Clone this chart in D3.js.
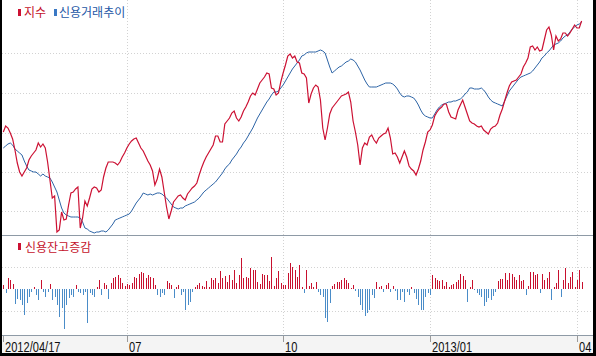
<!DOCTYPE html>
<html><head><meta charset="utf-8">
<script src="https://cdn.jsdelivr.net/npm/d3@7"></script>
<style>body{margin:0;background:#fff}svg{display:block}</style>
</head><body>
<svg id="chart" width="596" height="356"></svg>
<script>
// ---- data ----
const indexValues = [108,114,112,107,101,90,77,68,64,68,
72,80,84,87,90,97,93,96,92,78,
60,42,44,8,10,28,20,21,35,47,
48,51,53,12,22,39,34,42,51,53,
52,48,50,63,72,78,78,78,77,75,
78,83,87,92,96,99,101,102,97,92,
89,84,79,75,69,55,61,71,63,48,
33,21,29,38,41,44,45,42,40,46,
49,52,54,57,65,72,78,83,87,91,
95,104,104,98,98,116,119,122,127,129,
122,119,123,129,133,138,144,147,145,151,
157,160,163,167,166,152,151,145,147,158,
167,175,184,186,182,184,178,177,167,166,
162,137,146,152,155,153,140,112,100,112,
126,132,135,138,141,144,145,146,148,138,
119,108,95,75,92,97,95,103,105,100,
97,102,104,106,107,112,102,86,87,83,
77,83,89,83,74,71,69,65,71,79,
90,98,108,110,115,124,128,131,133,136,
136,128,123,122,121,130,135,140,133,126,
119,117,116,114,113,114,110,108,106,111,
113,114,117,125,131,139,147,154,158,159,
160,163,166,173,177,182,193,194,190,193,
189,190,200,210,213,205,190,204,199,201,
207,207,204,207,211,215,212,212,219];

const creditTrend = [92,94,96,97,95,91,89,87,85,79,
74,70,69,68,68,66,64,66,64,63,
62,58,53,48,40,32,27,25,24,23,
23,23,23,22,18,12,11,9,8,7,
8,8,9,9,8,10,13,16,20,21,
22,23,24,25,26,29,33,37,40,43,
47,46,45,46,45,46,47,47,46,44,
42,39,36,33,32,31,32,32,34,35,
36,37,38,40,42,45,48,50,52,54,
56,58,61,64,67,71,74,76,80,83,
86,90,93,97,100,104,108,112,117,122,
126,130,134,138,141,145,148,148,149,152,
155,159,163,167,171,174,177,180,184,185,
187,188,188,188,188,189,190,189,187,180,
173,167,169,171,173,174,176,178,179,181,
180,178,174,170,165,160,156,153,153,153,
153,154,155,156,157,157,157,156,154,151,
147,144,143,144,144,143,142,139,135,130,
126,124,123,122,122,126,130,133,135,136,
137,138,138,139,139,140,141,143,146,148,
152,152,151,151,151,152,150,147,143,140,
138,137,136,135,134,139,144,149,152,155,
158,161,163,164,165,166,167,169,172,175,
178,182,184,187,189,192,195,196,197,199,
202,204,205,208,211,213,215,216,218];

const creditChange = [4,-4,11,9,5,-15,-10,-11,-16,-26,
-14,-8,-3,2,-6,-11,9,-3,-8,-3,
5,-11,-8,-16,-28,-19,-40,-16,-9,-6,
-8,4,-3,-4,-6,-3,-34,-4,-6,-8,
2,9,-6,6,4,-10,6,11,12,14,
11,6,3,5,4,6,12,11,15,17,
16,11,14,12,11,4,-6,-8,-4,-6,
8,6,4,-9,2,4,-6,-3,-21,-16,
-13,-3,2,4,6,3,2,
8,2,11,9,11,6,18,11,13,7,
14,9,19,6,14,31,11,12,11,21,
19,19,7,5,15,14,14,8,32,3,
11,18,6,4,4,16,26,22,19,12,
24,2,-4,19,3,6,2,7,-3,-6,
-8,-29,-33,-14,3,5,7,7,9,11,
9,6,1,4,-2,-8,-16,-21,-27,-24,
-21,-6,-9,7,2,3,-3,4,6,-3,
3,-2,-11,-11,-3,
-13,-3,-6,2,-4,-10,-16,-21,-21,-8,
-4,-6,14,11,9,8,9,3,7,2,
4,5,7,9,15,13,9,-13,2,9,
-1,-4,-6,-8,-17,-13,-9,-11,-7,-3,
8,10,10,16,9,16,15,12,9,14,
8,9,-6,3,17,17,14,15,-4,15,
9,11,17,-11,2,6,19,-8,9,21,
6,12,17,2,9,19,7];

const tickIdx = [0, 53, 120, 183, 246];
const tickLabels = ["2012/04/17", "07", "10", "2013/01", "04"];
const topGridValues = [29, 68, 107, 147, 187];
const bottomGridValues = [-22, 22];
const topLegend = ["지수", "신용거래추이"];
const bottomLegend = ["신용잔고증감"];

// ---- drawing ----
const svg = d3.select("#chart");
const W = 596, H = 356;
const RED = "#cc1133", BLUE = "#2d64a6", BAR_RED = "#c8102e", BAR_BLUE = "#4a8cc8";
const KFONT = "'Noto Sans CJK KR','Noto Sans',sans-serif";

const x = d3.scaleLinear().domain([0, indexValues.length - 1]).range([3.3, 581.6]);
const yTop = d3.scaleLinear().domain([0, 240]).range([240, 0]);
const yBot = d3.scaleLinear().domain([-46, 46]).range([335, 243]);
const px = v => Math.round(v) + 0.5;

svg.append("rect").attr("width", W).attr("height", H).attr("fill", "#fff");
// axis strip
svg.append("rect").attr("x", 0).attr("y", 335).attr("width", W).attr("height", 18).attr("fill", "#f4f4f4");

// horizontal dotted grid
const grid = svg.append("g").attr("stroke", "#d2d2d2").attr("stroke-dasharray", "1,2").attr("stroke-width", 1).attr("shape-rendering", "crispEdges");
grid.selectAll("line.ht").data(topGridValues).join("line")
  .attr("x1", 2).attr("x2", 592).attr("y1", d => px(yTop(d))).attr("y2", d => px(yTop(d)));
grid.selectAll("line.hb").data(bottomGridValues).join("line").attr("class", "hb")
  .attr("x1", 2).attr("x2", 592).attr("y1", d => px(yBot(d))).attr("y2", d => px(yBot(d)));
// vertical dotted grid
grid.selectAll("line.v").data(tickIdx.slice(1)).join("line").attr("class", "v")
  .attr("x1", d => px(x(d))).attr("x2", d => px(x(d))).attr("y1", 0).attr("y2", 335);

// panel separators
svg.append("line").attr("x1", 0).attr("x2", 593).attr("y1", 235.5).attr("y2", 235.5).attr("stroke", "#8e9aa6");
svg.append("line").attr("x1", 0).attr("x2", 593).attr("y1", 335.5).attr("y2", 335.5).attr("stroke", "#8e9aa6");

// bars
svg.append("g").selectAll("rect").data(creditChange).join("rect")
  .attr("x", (d, i) => Math.round(x(i)))
  .attr("width", 1)
  .attr("y", d => Math.min(yBot(d), yBot(0)))
  .attr("height", d => Math.abs(yBot(d) - yBot(0)))
  .attr("fill", d => d >= 0 ? BAR_RED : BAR_BLUE);

// lines
const lineTop = d3.line().x((d, i) => x(i)).y(d => yTop(d));
svg.append("path").datum(creditTrend).attr("d", lineTop).attr("fill", "none").attr("stroke", BLUE).attr("stroke-width", 1);
svg.append("path").datum(indexValues).attr("d", lineTop).attr("fill", "none").attr("stroke", RED).attr("stroke-width", 1.2);

// legends
const lg = svg.append("g").attr("font-family", KFONT).attr("font-size", 12);
lg.append("rect").attr("x", 18).attr("y", 9).attr("width", 3).attr("height", 7).attr("fill", RED);
lg.append("text").attr("x", 24).attr("y", 17).attr("fill", "#c4122b").text(topLegend[0]);
lg.append("rect").attr("x", 54).attr("y", 9).attr("width", 3).attr("height", 7).attr("fill", "#3a78c4");
lg.append("text").attr("x", 59).attr("y", 17).attr("fill", "#2457a6").text(topLegend[1]);
lg.append("rect").attr("x", 18).attr("y", 243).attr("width", 3).attr("height", 7).attr("fill", RED);
lg.append("text").attr("x", 25).attr("y", 252).attr("fill", "#c4122b").text(bottomLegend[0]);

// x axis ticks and labels
const ax = svg.append("g");
ax.selectAll("line").data(tickIdx).join("line")
  .attr("x1", d => px(x(d))).attr("x2", d => px(x(d))).attr("y1", 336).attr("y2", 342)
  .attr("stroke", "#9a9a9a");
ax.selectAll("text").data(tickIdx).join("text")
  .attr("transform", d => `translate(${Math.round(x(d)) + 2},352) scale(0.74,1)`)
  .attr("font-family", "'Liberation Sans',Arial,sans-serif").attr("font-size", 15).attr("fill", "#111")
  .text((d, i) => tickLabels[i]);

// frame
svg.append("rect").attr("x", 0).attr("y", 0).attr("width", 2).attr("height", H).attr("fill", "#000");
svg.append("rect").attr("x", 593).attr("y", 0).attr("width", 3).attr("height", H).attr("fill", "#000");
svg.append("rect").attr("x", 0).attr("y", 353).attr("width", W).attr("height", 3).attr("fill", "#000");
</script>
</body></html>
